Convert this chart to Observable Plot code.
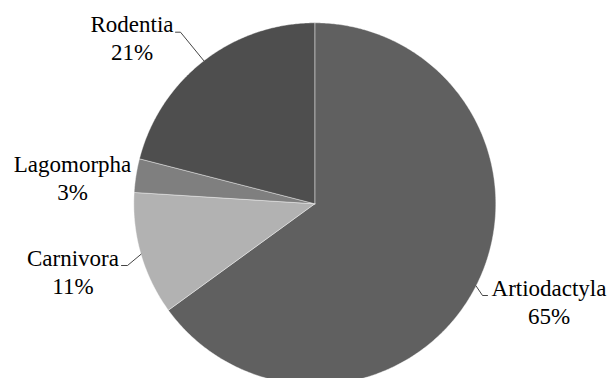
<!DOCTYPE html>
<html>
<head>
<meta charset="utf-8">
<script src="https://cdn.jsdelivr.net/npm/d3@7"></script>
<script src="https://cdn.jsdelivr.net/npm/@observablehq/plot@0.6"></script>
<style>
  html, body { margin: 0; padding: 0; background: #fff; overflow: hidden; }
</style>
</head>
<body>
<div id="chart"></div>
<script>
// ---- data ----
const categories = ["Artiodactyla", "Carnivora", "Lagomorpha", "Rodentia"];
const shares = [65, 11, 3, 21];
const colors = ["#606060", "#b2b2b2", "#7f7f7f", "#4e4e4e"];

// ---- layout (pixels) ----
const W = 609, H = 378;
const CX = 314.3, CY = 203.3, R = 181;
const FONT = 23, LINE = 28;
// label anchor (text centre x, first baseline y), leader elbow & end (null = no leader)
const labelX = [548.5, 72.5, 72, 131.5];
const labelY = [295, 265, 171.5, 31.7];
const elbowX = [482, 127, null, 180];
const endX = [487, 121, null, 175];

const ux = px => (px - CX) / R;
const uy = py => (CY - py) / R;

const pie = d3.pie().sort(null).value((d, i) => shares[i]);
const arcs = pie(categories);

// slice polygons in unit coordinates
const slicePts = [];
arcs.forEach((a, i) => {
  const name = categories[i];
  slicePts.push({name, x: 0, y: 0});
  const n = Math.max(2, Math.ceil((a.endAngle - a.startAngle) / (Math.PI / 360)));
  for (let k = 0; k <= n; k++) {
    const t = a.startAngle + (a.endAngle - a.startAngle) * k / n;
    slicePts.push({name, x: Math.sin(t), y: Math.cos(t)});
  }
  slicePts.push({name, x: 0, y: 0});
});

// leader lines
const leaderPts = [];
arcs.forEach((a, i) => {
  if (elbowX[i] == null) return;
  const m = (a.startAngle + a.endAngle) / 2;
  const name = categories[i];
  leaderPts.push({name, x: Math.sin(m), y: Math.cos(m)});
  leaderPts.push({name, x: ux(elbowX[i]), y: uy(labelY[i])});
  leaderPts.push({name, x: ux(endX[i]), y: uy(labelY[i])});
});

const labels = categories.map((c, i) => ({
  text: `${c}\n${shares[i]}%`,
  x: ux(labelX[i]),
  y: uy(labelY[i] + LINE)
}));

const chart = Plot.plot({
  width: W,
  height: H,
  margin: 0,
  x: {domain: [-1, 1], range: [CX - R, CX + R], axis: null},
  y: {domain: [-1, 1], range: [CY + R, CY - R], axis: null},
  color: {domain: categories, range: colors},
  style: {background: "#fff", fontFamily: "Liberation Serif"},
  marks: [
    Plot.line(slicePts, {x: "x", y: "y", z: "name", fill: "name", stroke: "#ffffff", strokeWidth: 0.8, strokeOpacity: 0.5, curve: "linear"}),
    Plot.line(leaderPts, {x: "x", y: "y", z: "name", stroke: "#303030", strokeWidth: 0.9}),
    Plot.text(labels, {
      x: "x", y: "y", text: "text",
      textAnchor: "middle", lineAnchor: "bottom", lineHeight: LINE / FONT,
      fontFamily: "Liberation Serif", fontSize: FONT, fill: "#000"
    })
  ]
});
document.getElementById("chart").appendChild(chart);
</script>
</body>
</html>
